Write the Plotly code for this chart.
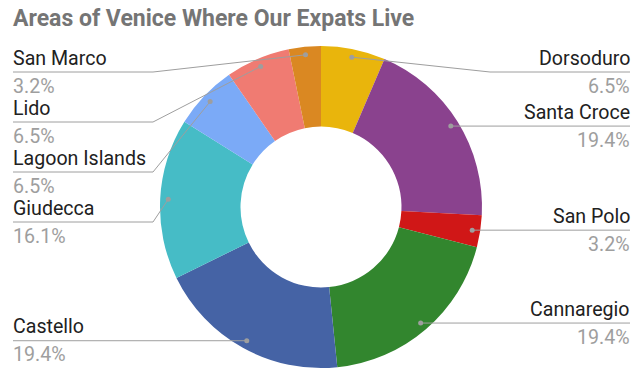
import math
import plotly.graph_objects as go

# Where the expats live (number of respondents per area), clockwise from 12 o'clock
areas = ["Dorsoduro", "Santa Croce", "San Polo", "Cannaregio", "Castello",
         "Giudecca", "Lagoon Islands", "Lido", "San Marco"]
expats = [2, 6, 1, 6, 6, 5, 2, 2, 1]
colors = ["#E9B50C", "#8A428E", "#D01717", "#32862E", "#4563A5",
          "#46BCC6", "#7BAAF7", "#F07B72", "#DA8822"]
title = "Areas of Venice Where Our Expats Live"

# Canvas and donut geometry (pixels)
W, H = 633, 369
CX, CY, R = 321, 207, 161
HOLE = 0.5
DOT_R = 0.95 * R          # where the leader lines touch the ring
LEFT_X, RIGHT_X = 13, 630  # outer edge of the label columns
LEFT_BEND, RIGHT_BEND = 153, 490
TOP_LINE = 72              # highest allowed label rule
ROW = 50                   # vertical room for one label block

LINE_COLOR = "#9E9E9E"
NAME_COLOR = "#212121"
PCT_COLOR = "#9E9E9E"
FONT = "Roboto"
LABEL_SIZE = 19.6
TITLE_SIZE = 23

total = sum(expats)

fig = go.Figure()

# Hidden pixel-space axes that carry the leader lines and labels
fig.add_trace(go.Scatter(x=[0, W], y=[0, H], mode="markers",
                         marker=dict(opacity=0), hoverinfo="skip",
                         showlegend=False))

fig.add_trace(go.Pie(
    labels=areas, values=expats, sort=False, direction="clockwise",
    rotation=0, hole=HOLE, textinfo="none", hoverinfo="skip",
    marker=dict(colors=colors, line=dict(width=0)),
    domain=dict(x=[CX / W - 0.3, CX / W + 0.3],
                y=[1 - (CY + R) / H, 1 - (CY - R) / H]),
    showlegend=False,
))

# Leader dot for every slice, at the middle angle of the slice
slices = []
cum = 0
for name, v in zip(areas, expats):
    mid = 2 * math.pi * (cum + v / 2) / total
    cum += v
    dx = CX + DOT_R * math.sin(mid)
    dy = CY - DOT_R * math.cos(mid)
    side = "right" if mid < math.pi else "left"
    pct = f"{100 * v / total:.1f}%"
    slices.append(dict(name=name, pct=pct, x=dx, y=dy, side=side))

shapes = []
annotations = []
for side in ("left", "right"):
    group = sorted([s for s in slices if s["side"] == side], key=lambda s: s["y"])
    prev = TOP_LINE - ROW
    for s in group:
        ly = max(s["y"], prev + ROW)
        prev = ly
        if side == "left":
            edge, bend, anchor = LEFT_X, LEFT_BEND, "left"
        else:
            edge, bend, anchor = RIGHT_X, RIGHT_BEND, "right"
        path = f"M{edge},{ly} L{bend},{ly} L{s['x']:.2f},{s['y']:.2f}"
        shapes.append(dict(type="path", path=path, xref="x", yref="y",
                           layer="above",
                           line=dict(color=LINE_COLOR, width=1)))
        shapes.append(dict(type="circle", xref="x", yref="y", layer="above",
                           x0=s["x"] - 2.5, x1=s["x"] + 2.5,
                           y0=s["y"] - 2.5, y1=s["y"] + 2.5,
                           fillcolor=LINE_COLOR, line=dict(width=0)))
        xa = edge - 2 if side == "left" else edge + 2
        annotations.append(dict(x=xa, y=ly - 14, xref="x", yref="y",
                                text=s["name"], showarrow=False,
                                xanchor=anchor, yanchor="middle",
                                font=dict(family=FONT, size=LABEL_SIZE, color=NAME_COLOR)))
        annotations.append(dict(x=xa, y=ly + 14, xref="x", yref="y",
                                text=s["pct"], showarrow=False,
                                xanchor=anchor, yanchor="middle",
                                font=dict(family=FONT, size=LABEL_SIZE, color=PCT_COLOR)))

annotations.append(dict(x=11, y=18, xref="x", yref="y", text=f"<b>{title}</b>",
                        showarrow=False, xanchor="left", yanchor="middle",
                        font=dict(family=FONT, size=TITLE_SIZE, color="#757575")))

fig.update_layout(
    width=W, height=H,
    margin=dict(l=0, r=0, t=0, b=0),
    paper_bgcolor="white", plot_bgcolor="rgba(0,0,0,0)",
    xaxis=dict(range=[0, W], visible=False, fixedrange=True),
    yaxis=dict(range=[H, 0], visible=False, fixedrange=True),
    shapes=shapes, annotations=annotations,
    showlegend=False,
)

fig.write_html("out.html")
